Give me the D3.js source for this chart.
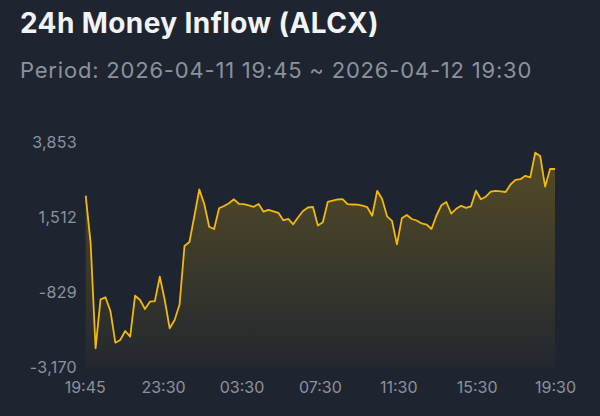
<!DOCTYPE html>
<html>
<head>
<meta charset="utf-8">
<script src="https://cdn.jsdelivr.net/npm/d3@7"></script>
<style>
  html, body { margin: 0; padding: 0; background: #1f2530; }
  svg { display: block; }
</style>
</head>
<body>
<svg id="chart" width="600" height="416"></svg>
<script>
const title = "24h Money Inflow (ALCX)";
const subtitle = "Period: 2026-04-11 19:45 ~ 2026-04-12 19:30";
const xTickLabels = ["19:45", "23:30", "03:30", "07:30", "11:30", "15:30", "19:30"];
const yTickValues = [-3170, -829, 1512, 3853];
const inflow = [
  2192, 707, -2571, -1041, -979, -1406, -2396, -2312, -2031, -2209,
  -929, -1063, -1344, -1116, -1100, -336, -1063, -1946, -1687, -1204,
  622, 747, 1559, 2386, 1933, 1225, 1153, 1799, 1871, 1955,
  2080, 1940, 1927, 1887, 1846, 1933, 1693, 1752, 1705, 1659,
  1425, 1468, 1300, 1521, 1715, 1824, 1840, 1262, 1362, 1996,
  2036, 2074, 2083, 1927, 1918, 1912, 1880, 1833, 1565, 2345,
  2089, 1549, 1409, 675, 1487, 1590, 1465, 1418, 1325, 1293,
  1153, 1574, 1893, 1996, 1634, 1783, 1877, 1815, 1862, 2349,
  2080, 2161, 2317, 2345, 2330, 2308, 2542, 2689, 2707, 2814,
  2767, 3535, 3432, 2473, 3026, 3026
];

const FONT = "Inter, 'Noto Sans', sans-serif";
const svg = d3.select("#chart");
const W = 600, H = 416;
svg.append("rect").attr("width", W).attr("height", H).attr("fill", "#1f2530");

svg.append("text").attr("x", 20).attr("y", 32.5)
  .attr("font-family", FONT).attr("font-weight", 700)
  .attr("font-size", 28).attr("letter-spacing", 0.4).attr("fill", "#f2f3f5").text(title);
svg.append("text").attr("x", 20).attr("y", 78.3)
  .attr("font-family", FONT).attr("font-weight", 400)
  .attr("font-size", 22).attr("letter-spacing", 0.8).attr("fill", "#8b929e").text(subtitle);

const plot = { left: 85.7, right: 555, top: 142.5, bottom: 367.5 };

const x = d3.scaleLinear().domain([0, inflow.length - 1]).range([plot.left, plot.right]);
const y = d3.scaleLinear().domain([d3.min(yTickValues), d3.max(yTickValues)]).range([plot.bottom, plot.top]);
const xLab = d3.scalePoint().domain(xTickLabels).range([plot.left - 1, plot.right]);

const defs = svg.append("defs");
const grad = defs.append("linearGradient").attr("id", "areaGrad")
  .attr("gradientUnits", "userSpaceOnUse")
  .attr("x1", 0).attr("x2", 0).attr("y1", y(d3.max(inflow))).attr("y2", plot.bottom);
grad.append("stop").attr("offset", "0%").attr("stop-color", "#f0b90b").attr("stop-opacity", 0.26);
grad.append("stop").attr("offset", "100%").attr("stop-color", "#f0b90b").attr("stop-opacity", 0.02);

const area = d3.area().x((d, i) => x(i)).y0(plot.bottom).y1(d => y(d));
const line = d3.line().x((d, i) => x(i)).y(d => y(d));

svg.append("path").datum(inflow).attr("d", area).attr("fill", "url(#areaGrad)");
svg.append("path").datum(inflow).attr("d", line)
  .attr("fill", "none").attr("stroke", "#f0b90b").attr("stroke-width", 1.8)
  .attr("stroke-linejoin", "round");

const fmt = d3.format(",");
const yAxis = d3.axisLeft(y).tickValues(yTickValues).tickSize(0).tickPadding(0)
  .tickFormat(d => fmt(d).replace("\u2212", "-"));
const gy = svg.append("g").attr("transform", `translate(77,0)`).call(yAxis);
gy.select(".domain").remove();
gy.selectAll("text").attr("font-family", FONT)
  .attr("font-size", 16).attr("letter-spacing", 0.3).attr("fill", "#8b929e");

const xAxis = d3.axisBottom(xLab).tickSize(0).tickPadding(0);
const gx = svg.append("g").attr("transform", `translate(0,382)`).call(xAxis);
gx.select(".domain").remove();
gx.selectAll("text").attr("font-family", FONT)
  .attr("font-size", 16).attr("fill", "#8b929e");
</script>
</body>
</html>
